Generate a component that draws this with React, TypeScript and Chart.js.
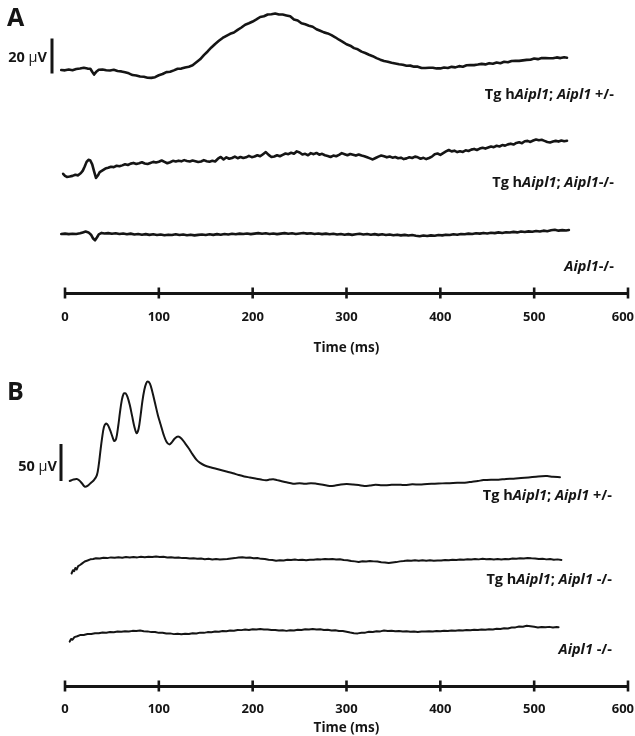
import React, { useEffect, useRef } from 'react';
import { Chart, registerables } from 'chart.js';

Chart.register(...registerables);

// ---------- DATA ----------
const TIME_TICKS_MS = [0, 100, 200, 300, 400, 500, 600];

// Panel A (scale bar 20 µV)
const a1Time = [-4,0,4,8,12,16,20,24,27,29,31,33,36,40,44,48,52,56,60,64,68,72,76,80,84,88,92,96,100,104,108,112,116,120,124,128,132,136,140,144,148,152,156,160,164,168,172,176,180,184,188,192,196,200,204,208,212,216,220,224,228,232,236,240,244,248,252,256,260,264,268,272,276,280,284,288,292,296,300,304,308,312,316,320,324,328,332,336,340,344,348,352,356,360,364,368,372,376,380,384,388,392,396,400,404,408,412,416,420,424,428,432,436,440,444,448,452,456,460,464,468,472,476,480,484,488,492,496,500,504,508,512,516,520,524,528,532,535];
const a1Uv = [0.0,-0.2,0.3,-0.1,0.6,0.9,1.3,0.8,0.7,-1.0,-2.6,-1.2,0.1,0.3,-0.1,-0.3,0.1,-0.6,-0.8,-1.3,-1.9,-2.9,-3.1,-3.7,-3.9,-4.4,-4.5,-4.1,-3.0,-2.3,-1.2,-1.0,-0.2,0.7,0.8,1.4,1.9,2.7,4.4,6.1,8.5,10.6,12.9,14.9,16.7,18.3,19.5,20.7,21.4,22.9,24.3,25.9,26.7,27.7,28.9,30.3,30.7,31.7,31.9,32.3,31.7,31.7,31.2,30.7,28.9,28.3,26.7,26.1,25.3,24.7,23.3,22.4,21.5,20.9,19.9,18.7,17.3,16.1,14.7,13.9,12.5,11.8,10.5,9.7,8.7,7.9,6.8,5.9,5.1,4.7,4.1,3.7,3.3,3.0,2.4,2.5,1.9,1.9,1.1,1.1,1.3,1.3,0.9,0.9,1.4,1.1,1.8,1.5,2.2,1.9,2.7,2.8,2.8,3.1,3.5,3.2,3.9,3.6,4.3,3.9,4.7,4.4,5.1,5.2,5.2,5.5,5.8,5.9,6.6,6.2,6.8,6.8,6.7,6.7,7.2,6.8,7.3,7.0];

const a2Time = [-4,-2,0,2,5,8,11,14,17,19,21,23,25,27,29,31,33,35,37,40,43,46,49,52,55,58,61,64,67,70,73,76,79,82,85,88,91,94,97,100,103,106,109,112,115,118,121,124,127,130,133,136,139,142,145,148,151,154,157,160,163,166,169,172,175,178,181,184,187,190,193,196,199,202,205,208,211,214,217,220,223,226,229,232,235,238,241,244,247,250,253,256,259,262,265,268,271,274,277,280,283,286,289,292,295,298,301,304,307,310,313,316,319,322,325,328,331,334,337,340,343,346,349,352,355,358,361,364,367,370,373,376,379,382,385,388,391,394,397,400,403,406,409,412,415,418,421,424,427,430,433,436,439,442,445,448,451,454,457,460,463,466,469,472,475,478,481,484,487,490,493,496,499,502,505,508,511,514,517,520,523,526,529,532,535];
const a2Uv = [3.0,-1.0,-2.2,-2.8,-2.6,-2.2,-1.6,-1.9,-0.6,0.8,3.2,5.8,7.0,6.6,4.4,0.4,-3.4,-2.0,0.0,1.0,2.0,2.4,3.0,2.8,3.6,3.3,3.8,4.4,4.0,4.8,5.2,4.6,5.0,5.6,4.9,4.6,5.2,5.8,5.4,5.9,6.6,5.8,5.0,5.6,6.4,6.0,6.5,6.1,6.8,6.3,6.0,6.6,6.2,5.7,6.0,6.8,6.2,5.9,6.4,6.0,7.6,8.6,7.2,8.4,7.6,8.0,8.8,7.9,8.6,8.0,8.4,9.2,8.5,8.9,9.6,9.0,10.2,11.4,9.8,8.6,8.9,9.6,9.0,9.8,10.6,10.2,11.0,10.5,11.8,11.2,10.0,10.4,9.6,10.8,10.2,10.9,9.9,10.4,9.6,9.2,8.6,9.4,9.0,9.8,10.8,10.2,9.6,10.3,9.9,9.4,10.0,9.4,9.0,8.4,7.8,7.2,8.0,8.8,9.4,9.0,8.4,8.9,8.2,8.6,7.9,8.2,7.4,7.8,8.4,8.0,8.8,8.4,7.6,8.1,7.4,8.0,8.8,10.2,10.6,9.8,10.8,11.8,12.6,11.8,12.2,11.4,11.9,11.5,12.4,12.0,12.8,13.2,12.6,13.4,13.9,13.4,14.0,14.6,14.2,15.0,14.6,15.4,15.1,15.8,16.2,15.7,16.6,17.0,16.5,17.6,17.8,17.2,18.0,18.6,18.2,18.4,17.8,17.2,16.9,17.4,17.8,17.4,18.0,17.6,17.9];

const a3Time = [-4,0,4,8,12,16,19,22,25,28,30,32,34,36,39,42,46,50,54,58,62,66,70,74,78,82,86,90,94,98,102,106,110,114,118,122,126,130,134,138,142,146,150,154,158,162,166,170,174,178,182,186,190,194,198,202,206,210,214,218,222,226,230,234,238,242,246,250,254,258,262,266,270,274,278,282,286,290,294,298,302,306,310,314,318,322,326,330,334,338,342,346,350,354,358,362,366,370,374,378,382,386,390,394,398,402,406,410,414,418,422,426,430,434,438,442,446,450,454,458,462,466,470,474,478,482,486,490,494,498,502,506,510,514,518,522,526,530,534,537];
const a3Uv = [0.0,0.2,-0.1,0.1,0.0,0.4,0.9,1.4,0.9,-0.6,-2.6,-3.6,-2.0,-0.2,0.6,0.3,0.5,0.1,0.4,0.0,0.3,-0.2,0.2,-0.3,0.0,-0.4,-0.1,-0.5,-0.2,-0.6,-0.3,-0.7,-0.4,-0.6,-0.2,-0.6,-0.3,-0.7,-0.4,-0.8,-0.5,-0.3,-0.6,-0.2,-0.5,-0.1,-0.4,0.0,-0.3,0.1,-0.2,0.2,0.0,0.3,-0.1,0.2,0.5,0.1,0.4,0.0,0.3,-0.1,0.2,0.5,0.1,0.4,0.0,0.3,0.6,0.2,0.4,0.0,0.3,-0.1,0.2,-0.2,0.1,-0.3,0.0,-0.4,-0.1,-0.5,-0.2,0.1,-0.3,0.0,-0.4,-0.1,-0.5,-0.2,-0.6,-0.3,-0.7,-0.4,-0.8,-0.5,-0.9,-0.6,-1.0,-1.3,-0.9,-1.2,-0.8,-1.0,-0.6,-0.8,-0.4,-0.6,-0.2,-0.4,0.0,-0.2,0.2,0.0,0.4,0.2,0.6,0.3,0.7,0.5,0.9,0.6,1.0,0.8,1.2,0.9,1.4,1.1,1.5,1.3,1.7,1.4,1.9,1.6,2.1,2.4,1.9,2.2,2.0,2.3];

// Panel B (scale bar 50 µV)
const b1Time = [5,9,12.5,15,18,21,24,28,31,34,36,37.5,39.5,41.5,43.5,45.5,48,50.5,52.5,54.5,56.8,58.5,60.5,62.5,64.5,66.5,69,71.5,74,76.4,78.5,80.5,82.5,84.5,86.5,88.3,90.5,93,96,99,102,105,108,111,114,117,120.5,124,128,132,136,140,144,149,155,161,167,173,179,185,191,197,203,209,214,218,222,226,230,236,243,250,256,262,268,275,282,288,294,300,307,313,319,325,331,338,346,354,362,370,378,386,394,402,410,418,426,434,440,446,454,462,470,478,486,494,502,508,514,520,527.5];
const b1Uv = [0,2.0,2.7,1.0,-3.0,-7.5,-6.5,-2.0,1.5,8,22,38,58,73,77.5,76,69,60,54,57,75,92,109,118,118.5,114,103,88,73,64.5,71,88,108,123,132,134.5,131.5,121,105,89,76,63,53.5,49.5,52.5,57.5,60,57.5,51,44,36,29,24.5,21,18.5,16.5,14.5,12.5,10.5,8.2,6.2,4.8,3.4,1.9,0.9,1.9,2.4,1.2,0.0,-1.8,-3.6,-3.0,-3.8,-2.9,-3.6,-5.0,-6.8,-6.2,-4.8,-4.2,-4.6,-5.4,-6.6,-6.0,-5.2,-5.9,-5.3,-4.9,-5.4,-4.5,-4.8,-4.0,-3.7,-3.2,-2.9,-2.4,-2.3,-1.0,0.0,1.2,1.8,1.8,2.8,3.1,4.0,4.9,5.8,6.5,6.6,5.6,5.2];

const b2Time = [7,8.5,9.8,11,12.5,14,16,18,21,24,27,30,33,37,41,45,49,53,57,61,65,69,73,77,81,85,89,93,97,101,105,109,113,117,121,125,129,133,137,141,145,149,153,157,161,165,169,173,177,181,185,189,193,197,201,205,209,213,217,221,225,229,233,237,241,245,249,253,257,261,265,269,273,277,281,285,289,293,297,301,305,309,313,317,321,325,329,333,337,341,345,349,353,357,361,365,369,373,377,381,385,389,393,397,401,405,409,413,417,421,425,429,433,437,441,445,449,453,457,461,465,469,473,477,481,485,489,493,497,501,505,509,513,517,521,525,529];
const b2Uv = [-21,-16.5,-17.8,-13.5,-15.5,-11,-9.5,-7.6,-4.8,-3.4,-1.8,-1.4,-0.4,-0.8,0.2,-0.2,0.8,0.3,0.9,0.4,1.3,0.7,1.2,0.8,1.6,1.1,1.8,1.3,2.0,1.4,1.5,0.7,1.0,0.2,0.6,-0.2,0.1,-0.7,-0.3,-1.1,-0.8,-1.6,-1.2,-2.0,-1.5,-2.1,-1.6,-1.4,-0.6,-0.2,0.6,0.9,0.4,0.6,-0.3,-0.1,-1.2,-1.4,-2.4,-2.8,-3.8,-3.1,-3.3,-2.4,-2.7,-2.2,-2.9,-2.4,-3.0,-2.3,-2.5,-1.6,-1.9,-1.3,-1.8,-1.5,-2.2,-1.8,-2.8,-3.0,-4.2,-4.6,-5.4,-4.4,-4.8,-4.0,-4.6,-4.9,-5.8,-6.0,-6.8,-6.0,-5.6,-4.6,-4.2,-3.4,-3.8,-3.0,-3.6,-3.0,-3.7,-3.2,-3.9,-3.3,-3.5,-2.7,-3.1,-2.3,-2.7,-2.0,-2.4,-1.6,-2.1,-1.4,-1.9,-1.2,-1.8,-1.3,-2.0,-1.5,-2.1,-1.4,-1.6,-0.8,-1.1,-0.4,-0.7,0.0,-0.5,-0.6,-1.4,-1.1,-1.9,-1.5,-2.3,-1.9,-2.6];

const b3Time = [5,6.5,8,10,13,16,20,24,28,32,36,40,44,48,52,56,60,64,68,72,76,80,84,88,92,96,100,104,108,112,116,120,124,128,132,136,140,144,148,152,156,160,164,168,172,176,180,184,188,192,196,200,204,208,212,216,220,224,228,232,236,240,244,248,252,256,260,264,268,272,276,280,284,288,292,296,300,304,308,312,316,320,324,328,332,336,340,344,348,352,356,360,364,368,372,376,380,384,388,392,396,400,404,408,412,416,420,424,428,432,436,440,444,448,452,456,460,464,468,472,476,480,484,488,492,496,500,504,508,512,516,520,524,526];
const b3Uv = [-13,-9.5,-10.5,-7,-5.8,-4.2,-4.0,-2.8,-2.6,-1.6,-1.8,-0.6,-1.0,-0.1,-0.4,0.5,0.2,1.0,0.6,1.5,1.2,1.9,1.0,0.8,-0.2,-0.1,-1.2,-1.0,-2.1,-1.9,-2.9,-2.4,-3.1,-2.4,-2.8,-1.8,-2.0,-0.9,-1.2,-0.2,-0.3,0.7,0.4,1.3,1.0,2.0,1.8,2.8,2.5,3.3,2.8,3.7,3.3,3.9,3.2,3.4,2.6,2.8,1.9,2.2,1.5,2.4,2.0,3.0,2.6,3.6,3.2,4.0,3.4,3.6,2.7,2.9,2.0,2.3,1.4,1.2,0.2,-0.8,-1.6,-1.9,-1.0,-0.9,0.2,0.0,1.0,0.8,1.9,1.4,1.8,1.1,1.4,0.6,1.0,0.3,0.7,0.1,0.8,0.5,1.1,0.7,1.4,1.0,1.8,1.3,2.0,1.6,2.4,1.9,2.7,2.3,3.0,2.6,3.4,2.9,3.8,3.4,4.3,3.9,4.9,4.8,6.0,6.2,7.4,7.2,8.3,7.6,7.0,6.2,6.8,6.3,6.9,6.0,6.6,6.4];

const SCALE_A_UV = 20;
const SCALE_B_UV = 50;

type Seg = { t: string; i?: boolean };
const LABEL_PLUS: Seg[] = [{ t: 'Tg h' }, { t: 'Aipl1', i: true }, { t: '; ' }, { t: 'Aipl1', i: true }, { t: ' +/-' }];
const LABEL_TG_KO_A: Seg[] = [{ t: 'Tg h' }, { t: 'Aipl1', i: true }, { t: '; ' }, { t: 'Aipl1', i: true }, { t: '-/-' }];
const LABEL_KO_A: Seg[] = [{ t: 'Aipl1', i: true }, { t: '-/-' }];
const LABEL_TG_KO_B: Seg[] = [{ t: 'Tg h' }, { t: 'Aipl1', i: true }, { t: '; ' }, { t: 'Aipl1', i: true }, { t: ' -/-' }];
const LABEL_KO_B: Seg[] = [{ t: 'Aipl1', i: true }, { t: ' -/-' }];

// ---------- LAYOUT / STYLE ----------
const FONT = '"Open Sans", Lato, sans-serif';
const INK = '#151515';
const CANVAS_W = 660;
const VISIBLE_W = 635;

type PanelCfg = {
  top: number;
  height: number;
  axisHeight: number;
  yMin: number;
  yMax: number;
  offsets: number[];
  traces: { t: number[]; v: number[] }[];
  lineWidth: number;
  tensions: number[];
  tickLabelDy: number;
  titlePadBottom: number;
  letter: string;
  letterBaseline: number;
  bar: { uv: number; base: number; dx: number; textY: number; textRight: number; label: string };
  labels: { segs: Seg[]; right: number; y: number }[];
};

const PANEL_A: PanelCfg = {
  top: 0,
  height: 360,
  axisHeight: 67,
  yMin: -127.43,
  yMax: 40,
  offsets: [0, -58.3, -93.7],
  traces: [
    { t: a1Time, v: a1Uv },
    { t: a2Time, v: a2Uv },
    { t: a3Time, v: a3Uv },
  ],
  lineWidth: 2.6,
  tensions: [0, 0, 0],
  tickLabelDy: 24,
  titlePadBottom: 4,
  letter: 'A',
  letterBaseline: 26,
  bar: { uv: SCALE_A_UV, base: -2, dx: -13, textY: 58, textRight: 47, label: '20' },
  labels: [
    { segs: LABEL_PLUS, right: 614, y: 95 },
    { segs: LABEL_TG_KO_A, right: 614, y: 183 },
    { segs: LABEL_KO_A, right: 614, y: 267 },
  ],
};

const PANEL_B: PanelCfg = {
  top: 370,
  height: 366,
  axisHeight: 50,
  yMin: -277,
  yMax: 150,
  offsets: [0, -104, -204],
  traces: [
    { t: b1Time, v: b1Uv },
    { t: b2Time, v: b2Uv },
    { t: b3Time, v: b3Uv },
  ],
  lineWidth: 2.0,
  tensions: [0.35, 0, 0],
  tickLabelDy: 23,
  titlePadBottom: 0,
  letter: 'B',
  letterBaseline: 30,
  bar: { uv: SCALE_B_UV, base: 0, dx: -4, textY: 97, textRight: 57, label: '50' },
  labels: [
    { segs: LABEL_PLUS, right: 612, y: 126 },
    { segs: LABEL_TG_KO_B, right: 612, y: 210 },
    { segs: LABEL_KO_B, right: 612, y: 280 },
  ],
};

function drawRich(ctx: CanvasRenderingContext2D, segs: Seg[], right: number, y: number, size: number) {
  const fonts = segs.map((s) => `${s.i ? 'italic ' : ''}bold ${size}px ${FONT}`);
  let total = 0;
  segs.forEach((s, k) => {
    ctx.font = fonts[k];
    total += ctx.measureText(s.t).width;
  });
  let x = right - total;
  ctx.textAlign = 'left';
  ctx.textBaseline = 'middle';
  segs.forEach((s, k) => {
    ctx.font = fonts[k];
    ctx.fillText(s.t, x, y);
    x += ctx.measureText(s.t).width;
  });
}

function makePlugin(p: PanelCfg) {
  return {
    id: 'ergDecor',
    afterDraw(chart: any) {
      const ctx: CanvasRenderingContext2D = chart.ctx;
      const xs = chart.scales.x;
      const ys = chart.scales.y;
      ctx.save();
      ctx.fillStyle = INK;
      ctx.strokeStyle = INK;
      // axis tick marks crossing the axis line, plus their labels
      ctx.lineWidth = 2.6;
      ctx.lineCap = 'butt';
      ctx.font = `bold 13px ${FONT}`;
      ctx.textAlign = 'center';
      ctx.textBaseline = 'middle';
      xs.ticks.forEach((tk: any) => {
        const px = xs.getPixelForValue(tk.value);
        ctx.beginPath();
        ctx.moveTo(px, xs.top - 5.5);
        ctx.lineTo(px, xs.top + 5.5);
        ctx.stroke();
        const txt = String(tk.value);
        const w = ctx.measureText(txt).width;
        const lx = Math.min(px, VISIBLE_W - 1 - w / 2);
        ctx.fillText(txt, lx, xs.top + p.tickLabelDy);
      });
      // scale bar
      const bx = chart.chartArea.left + p.bar.dx;
      const y0 = ys.getPixelForValue(p.offsets[0] + p.bar.base);
      const y1 = ys.getPixelForValue(p.offsets[0] + p.bar.base + p.bar.uv);
      ctx.lineWidth = 3;
      ctx.beginPath();
      ctx.moveTo(bx, y0);
      ctx.lineTo(bx, y1);
      ctx.stroke();
      // scale bar text "NN µV"
      ctx.textBaseline = 'middle';
      ctx.textAlign = 'left';
      const parts = [
        { t: p.bar.label + ' ', f: `bold 14.5px ${FONT}` },
        { t: 'µ', f: `14.5px ${FONT}` },
        { t: 'V', f: `bold 14.5px ${FONT}` },
      ];
      let w = 0;
      parts.forEach((q) => { ctx.font = q.f; w += ctx.measureText(q.t).width; });
      let tx = p.bar.textRight - w;
      parts.forEach((q) => { ctx.font = q.f; ctx.fillText(q.t, tx, p.bar.textY); tx += ctx.measureText(q.t).width; });
      // panel letter
      ctx.font = `bold 25px ${FONT}`;
      ctx.textBaseline = 'alphabetic';
      ctx.fillText(p.letter, 7, p.letterBaseline);
      // trace labels
      p.labels.forEach((l) => drawRich(ctx, l.segs, l.right, l.y, 14.5));
      ctx.restore();
    },
  };
}

function Panel({ p }: { p: PanelCfg }) {
  const ref = useRef<HTMLCanvasElement | null>(null);
  useEffect(() => {
    if (!ref.current) return;
    const datasets = p.traces.map((tr, k) => ({
      data: tr.t.map((t, j) => ({ x: t, y: tr.v[j] + p.offsets[k] })),
      borderColor: INK,
      borderWidth: p.lineWidth,
      pointRadius: 0,
      tension: p.tensions[k],
      fill: false,
      clip: false as any,
      borderJoinStyle: 'round' as const,
      borderCapStyle: 'round' as const,
    }));
    const chart = new Chart(ref.current, {
      type: 'line',
      data: { datasets },
      options: {
        animation: false,
        responsive: false,
        devicePixelRatio: 1,
        events: [],
        layout: { padding: { left: 65, right: CANVAS_W - 628, top: 0, bottom: 0 } },
        plugins: { legend: { display: false }, tooltip: { enabled: false } },
        scales: {
          x: {
            type: 'linear',
            min: TIME_TICKS_MS[0],
            max: TIME_TICKS_MS[TIME_TICKS_MS.length - 1],
            afterBuildTicks: (s: any) => {
              s.ticks = TIME_TICKS_MS.map((v) => ({ value: v }));
            },
            ticks: { display: false },
            grid: { display: false, drawTicks: false },
            border: { display: true, color: INK, width: 3 },
            title: {
              display: true,
              text: 'Time (ms)',
              color: INK,
              font: { family: FONT, weight: 'bold', size: 13.5 },
              padding: { top: 0, bottom: p.titlePadBottom },
            },
            afterFit: (s: any) => {
              s.height = p.axisHeight;
            },
          },
          y: { type: 'linear', display: false, min: p.yMin, max: p.yMax },
        },
      },
      plugins: [makePlugin(p)],
    } as any);
    return () => chart.destroy();
  }, [p]);
  return (
    <canvas
      ref={ref}
      width={CANVAS_W}
      height={p.height}
      style={{ position: 'absolute', left: 0, top: p.top, width: CANVAS_W, height: p.height }}
    />
  );
}

export default function App() {
  return (
    <div style={{ position: 'fixed', left: 0, top: 0, width: VISIBLE_W, height: 736, overflow: 'hidden', background: '#fff' }}>
      <Panel p={PANEL_A} />
      <Panel p={PANEL_B} />
    </div>
  );
}
